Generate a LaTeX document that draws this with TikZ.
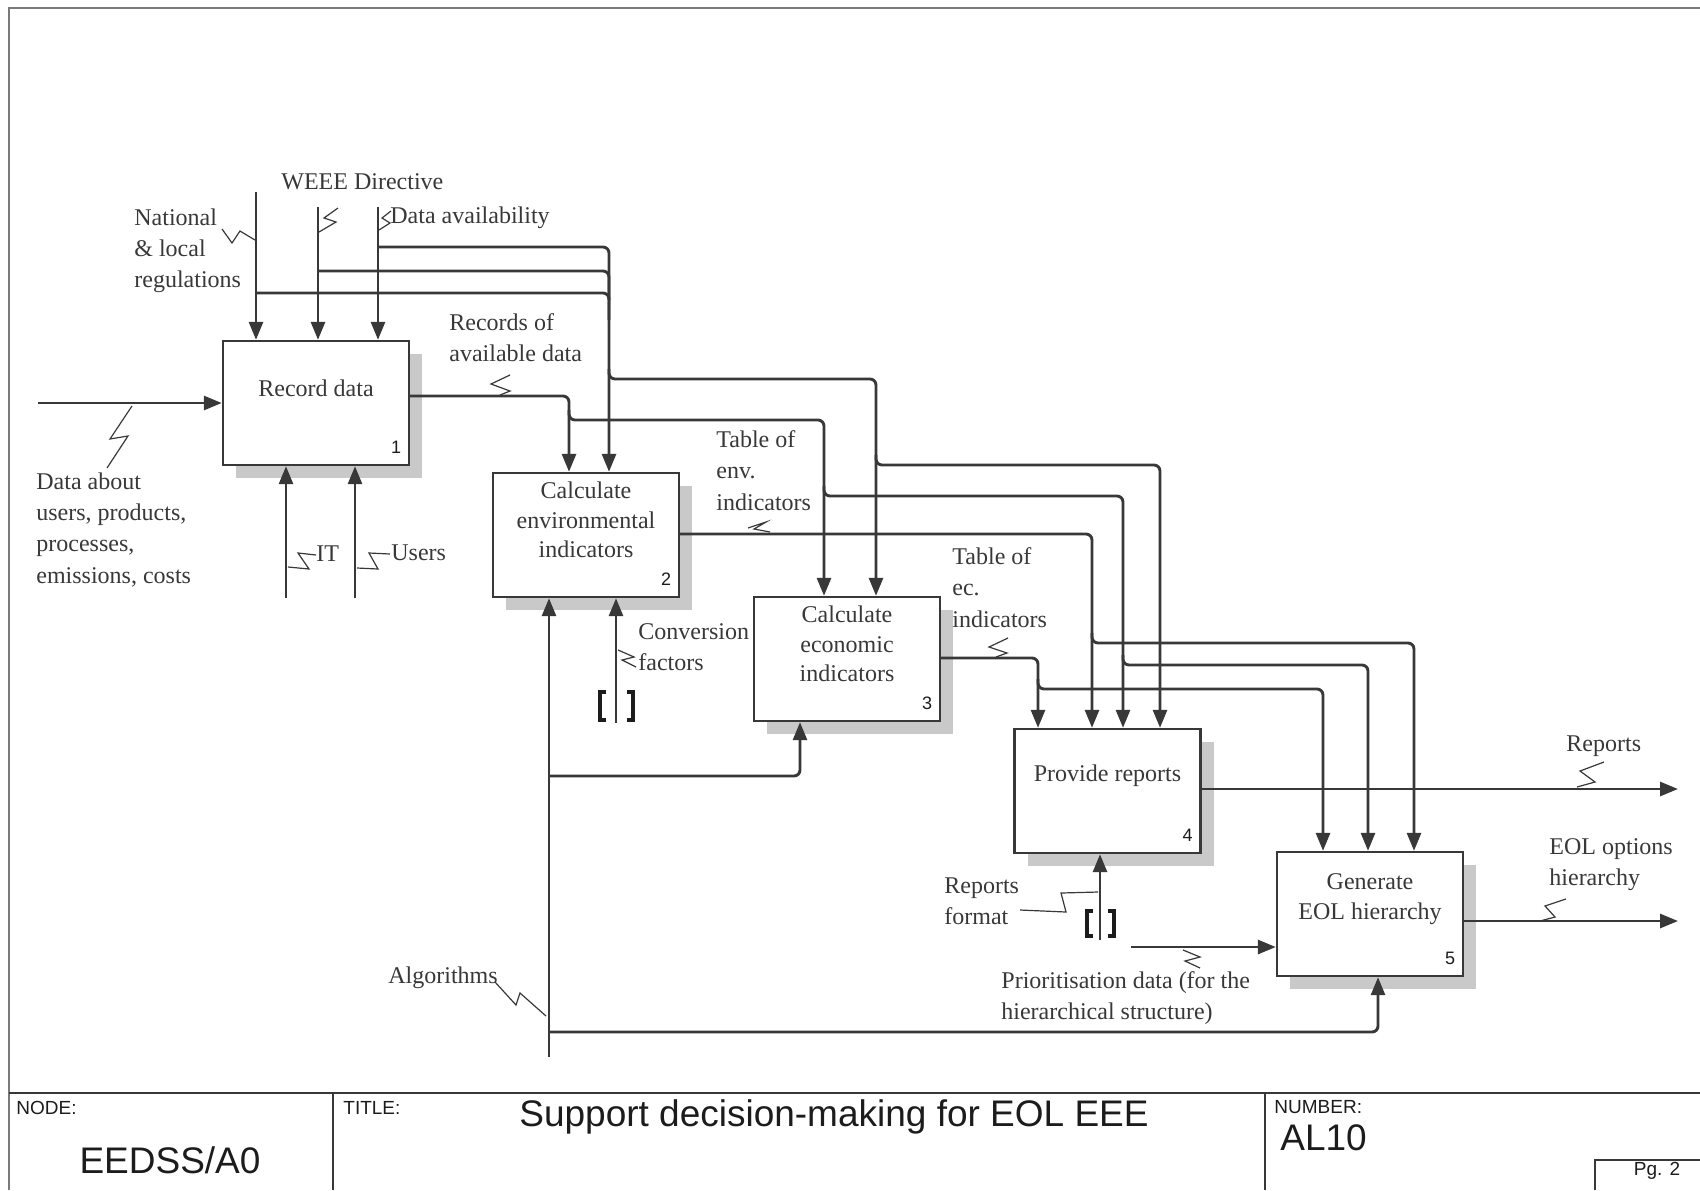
\documentclass[tikz,border=0pt]{standalone}
\usepackage{fontspec}
\setmainfont{Liberation Serif}
\newfontfamily\titlefont{Liberation Sans}
\usetikzlibrary{arrows.meta,shadows}
\definecolor{ink}{HTML}{383838}
\definecolor{darkink}{HTML}{1c1c1c}
\definecolor{frameclr}{HTML}{7a7a7a}
\definecolor{shade}{HTML}{c9c9c9}

\begin{document}
\begin{tikzpicture}[x=0.5pt,y=-0.5pt,
  box/.style={draw=ink, line width=1.2pt, fill=white, minimum width=93pt, minimum height=62pt, inner sep=0pt,
    drop shadow={shadow xshift=6.5pt, shadow yshift=-6.5pt, fill=shade, opacity=1}},
  boxtext/.style={font=\fontsize{12}{14.8}\selectfont, align=center, text=ink, inner sep=0pt},
  num/.style={font=\titlefont\fontsize{9}{10}\selectfont, text=darkink, inner sep=0pt},
  lab/.style={font=\fontsize{12}{15.7}\selectfont, align=left, text=ink, inner sep=0pt, anchor=north west},
  flow/.style={draw=ink, line width=1.45pt, rounded corners=3pt},
  arr/.style={flow, -{Triangle[length=9pt,width=7pt]}},
  sq/.style={draw=ink, line width=0.6pt},
  brk/.style={draw=darkink, line width=1.7pt},
  tb/.style={draw=ink, line width=1.2pt},
  small/.style={font=\titlefont\fontsize{9.5}{11}\selectfont, text=darkink, inner sep=0pt, anchor=west},
  big/.style={font=\titlefont\fontsize{18.5}{21}\selectfont, text=darkink, inner sep=0pt},
]
\useasboundingbox (0,0) rectangle (1700,1190);

% sheet frame and title block
\draw[frameclr, line width=1pt] (9,1190) -- (9,8) -- (1700,8);
\draw[tb] (9,1093) -- (1700,1093);
\draw[tb] (333,1093) -- (333,1190);
\draw[tb] (1265,1093) -- (1265,1190);
\draw[draw=ink, line width=0.9pt] (1595,1190) -- (1595,1160) -- (1700,1160);
\node[small] (nodeT) at (16,1108) {NODE:};
\node[big] (nodeV) at (170,1160) {EEDSS/A0};
\node[small] (titleT) at (343,1108) {TITLE:};
\node[big] (titleV) at (834,1117) {Support decision-making for EOL EEE};
\node[small] (numT) at (1274,1107) {NUMBER:};
\node[big, anchor=west] (numV) at (1280,1138) {AL10};
\node[small, anchor=center] (pg) at (1657,1171) {Pg. 2};

% activity boxes
\node[box] (b1) at (316,403) {};
\node[box] (b2) at (586,535) {};
\node[box] (b3) at (847,659) {};
\node[box] (b4) at (1107.5,791) {};
\node[box] (b5) at (1370,914) {};
\node[boxtext] (t1) at ([yshift=7.5pt]b1.center) {Record data};
\node[boxtext] (t2) at ([yshift=7.5pt]b2.center) {Calculate\\environmental\\indicators};
\node[boxtext] (t3) at ([yshift=7.5pt]b3.center) {Calculate\\economic\\indicators};
\node[boxtext] (t4) at ([yshift=7.5pt]b4.center) {Provide reports};
\node[boxtext] (t5) at ([yshift=7.5pt]b5.center) {Generate\\EOL hierarchy};
\node[num] (n1) at ([shift={(-14,-19)}]b1.south east) {1};
\node[num] (n2) at ([shift={(-14,-19)}]b2.south east) {2};
\node[num] (n3) at ([shift={(-14,-19)}]b3.south east) {3};
\node[num] (n4) at ([shift={(-14,-19)}]b4.south east) {4};
\node[num] (n5) at ([shift={(-14,-19)}]b5.south east) {5};

% free ends and routing columns
\coordinate (natS) at (256,192);
\coordinate (weeS) at (318,207);
\coordinate (davS) at (378,207);
\coordinate (dIn) at (38,403);
\coordinate (itS) at (286,598);
\coordinate (usS) at (355,598);
\coordinate (alS) at (549,1057);
\coordinate (cvS) at (616,723);
\coordinate (rfS) at (1100,940);
\coordinate (prS) at (1131,947);
\coordinate (repE) at (1678,789);
\coordinate (eolE) at (1678,921);
\coordinate (c2x) at (609,0);
\coordinate (c3x) at (876,0);
\coordinate (c4x) at (1160,0);
\coordinate (r2x) at (569,0);
\coordinate (r3x) at (824,0);
\coordinate (r4x) at (1123,0);
\coordinate (r5x) at (1368,0);
\coordinate (e4x) at (1092,0);
\coordinate (e5x) at (1414,0);
\coordinate (k4x) at (1038,0);
\coordinate (k5x) at (1323,0);
\coordinate (a3x) at (800,0);
\coordinate (a5x) at (1378,0);

% controls
\draw[arr] (natS) -- (natS |- b1.north);
\draw[arr] (weeS) -- (weeS |- b1.north);
\draw[arr] (davS) -- (davS |- b1.north);
\draw[arr] (davS |- 0,247) -| (c2x |- b2.north);
\draw[flow] (weeS |- 0,271) -| (c2x |- 0,300);
\draw[flow] (natS |- 0,293) -| (c2x |- 0,320);
\draw[arr] (c2x |- 0,369) |- (c3x |- 0,379) -- (c3x |- b3.north);
\draw[arr] (c3x |- 0,455) |- (c4x |- 0,465) -- (c4x |- b4.north);

% records of available data
\draw[arr] (b1.east |- 0,396) -| (r2x |- b2.north);
\draw[arr] (r2x |- 0,410) |- (r3x |- 0,420) -- (r3x |- b3.north);
\draw[arr] (r3x |- 0,486) |- (r4x |- 0,496) -- (r4x |- b4.north);
\draw[arr] (r4x |- 0,655) |- (r5x |- 0,665) -- (r5x |- b5.north);

% environmental indicators
\draw[arr] (b2.east |- 0,534) -| (e4x |- b4.north);
\draw[arr] (e4x |- 0,633) |- (e5x |- 0,643) -- (e5x |- b5.north);

% economic indicators
\draw[arr] (b3.east |- 0,658) -| (k4x |- b4.north);
\draw[arr] (k4x |- 0,679) |- (k5x |- 0,689) -- (k5x |- b5.north);

% inputs
\draw[arr] (dIn) -- (b1.west);
\draw[arr] (prS) -- (b5.west |- prS);

% mechanisms
\draw[arr] (itS) -- (itS |- b1.south);
\draw[arr] (usS) -- (usS |- b1.south);
\draw[arr] (alS) -- (alS |- b2.south);
\draw[arr] (alS |- 0,776) -| (a3x |- b3.south);
\draw[arr] (alS |- 0,1032) -| (a5x |- b5.south);
\draw[arr] (cvS) -- (cvS |- b2.south);
\draw[arr] (rfS) -- (rfS |- b4.south);

% tunnelled arrow ends
\draw[brk] (606,692) -- (600,692) -- (600,720) -- (606,720);
\draw[brk] (627,692) -- (633,692) -- (633,720) -- (627,720);
\draw[brk] (1093,911) -- (1087,911) -- (1087,936) -- (1093,936);
\draw[brk] (1108,911) -- (1114,911) -- (1114,936) -- (1108,936);

% outputs
\draw[arr] (b4.east |- repE) -- (repE);
\draw[arr] (b5.east |- eolE) -- (eolE);

% arrow labels
\node[lab] (lNat) at (134,208) {National\\\& local\\regulations};
\node[lab] (lWee) at (281,173) {WEEE Directive};
\node[lab] (lDav) at (390,206) {Data availability};
\node[lab] (lRec) at (449,313) {Records of\\available data};
\node[lab] (lDat) at (36,472) {Data about\\users, products,\\processes,\\emissions, costs};
\node[lab] (lIT) at (316,545) {IT};
\node[lab] (lUs) at (391,544) {Users};
\node[lab] (lEnv) at (716,430) {Table of\\env.\\indicators};
\node[lab] (lCv) at (638,623) {Conversion\\factors};
\node[lab] (lEc) at (952,547) {Table of\\ec.\\indicators};
\node[lab] (lAl) at (388,966) {Algorithms};
\node[lab] (lRf) at (944,877) {Reports\\format};
\node[lab] (lPr) at (1001,971) {Prioritisation data (for the\\hierarchical structure)};
\node[lab] (lRep) at (1566,735) {Reports};
\node[lab] (lEol) at (1549,838) {EOL options\\hierarchy};

% squiggles tying labels to arrows
\draw[sq] (222,229) -- (232,243) -- (240,231) -- (255,240);
\draw[sq] (319,232) -- (336,222) -- (324,218) -- (338,208);
\draw[sq] (379,230) -- (390,223) -- (382,218) -- (391,211);
\draw[sq] (510,375) -- (491,384) -- (510,391) -- (500,395);
\draw[sq] (132,406) -- (110,439) -- (128,436) -- (107,468);
\draw[sq] (288,567) -- (309,569) -- (298,553) -- (316,555);
\draw[sq] (357,568) -- (378,569) -- (369,553) -- (390,554);
\draw[sq] (748,528) -- (766,522) -- (754,529) -- (770,532);
\draw[sq] (618,650) -- (634,657) -- (622,660) -- (636,667);
\draw[sq] (1008,638) -- (989,647) -- (1007,653) -- (996,657);
\draw[sq] (495,982) -- (516,1005) -- (520,993) -- (546,1016);
\draw[sq] (1020,910) -- (1066,912) -- (1061,893) -- (1098,892);
\draw[sq] (1183,950) -- (1200,957) -- (1185,961) -- (1200,968);
\draw[sq] (1604,762) -- (1580,771) -- (1595,782) -- (1577,787);
\draw[sq] (1566,899) -- (1545,906) -- (1555,917) -- (1540,921);
\end{tikzpicture}
\end{document}
